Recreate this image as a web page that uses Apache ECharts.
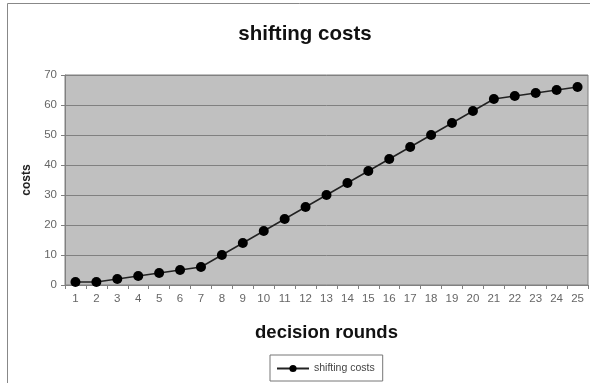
<!DOCTYPE html>
<html>
<head>
<meta charset="utf-8">
<script src="https://cdn.jsdelivr.net/npm/echarts@6/dist/echarts.min.js"></script>
<style>
  html, body { margin: 0; padding: 0; background: #fff; }
  #chart { width: 590px; height: 383px; }
</style>
</head>
<body>
<div id="chart"></div>
<script>
// Decision rounds and the shifting cost recorded at each round
const rounds = ['1','2','3','4','5','6','7','8','9','10','11','12','13','14','15','16','17','18','19','20','21','22','23','24','25'];
const shiftingCosts = [1, 1, 2, 3, 4, 5, 6, 10, 14, 18, 22, 26, 30, 34, 38, 42, 46, 50, 54, 58, 62, 63, 64, 65, 66];
const yTicks = { min: 0, max: 70, interval: 10 };

const chart = echarts.init(document.getElementById('chart'));
const font = 'Arial, "Liberation Sans", sans-serif';

chart.setOption({
  animation: false,
  backgroundColor: '#fff',
  title: {
    text: 'shifting costs',
    left: 300, top: 19, textAlign: 'center',
    textStyle: { fontFamily: font, fontSize: 20.5, fontWeight: 'bold', color: '#111' }
  },
  graphic: [{
    type: 'rect', silent: true,
    shape: { x: 7.5, y: 3.5, width: 600, height: 400 },
    style: { fill: 'none', stroke: '#888', lineWidth: 1 }
  }],
  grid: {
    left: 65, right: 2, top: 75, bottom: 98,
    show: true, backgroundColor: '#c0c0c0', borderColor: '#808080', borderWidth: 1
  },
  legend: {
    data: ['shifting costs'],
    left: 270, top: 355,
    padding: [8, 8, 7, 6],
    borderColor: '#777', borderWidth: 1,
    itemWidth: 32, itemHeight: 9, itemGap: 4,
    textStyle: { fontFamily: font, fontSize: 10.5, color: '#444' }
  },
  xAxis: {
    type: 'category', data: rounds, boundaryGap: true,
    name: 'decision rounds', nameLocation: 'middle', nameGap: 38,
    nameTextStyle: { fontFamily: font, fontSize: 18.5, fontWeight: 'bold', color: '#111' },
    axisLine: { lineStyle: { color: '#808080' } },
    axisTick: { show: true, length: 4, lineStyle: { color: '#808080' } },
    axisLabel: { fontFamily: font, fontSize: 11.5, color: '#666', margin: 8, interval: 0 },
    splitLine: { show: false }
  },
  yAxis: {
    type: 'value', min: yTicks.min, max: yTicks.max, interval: yTicks.interval,
    name: 'costs', nameLocation: 'middle', nameGap: 32, nameRotate: 90,
    nameTextStyle: { fontFamily: font, fontSize: 12, fontWeight: 'bold', color: '#222' },
    axisLine: { show: true, lineStyle: { color: '#808080' } },
    axisTick: { show: true, length: 4, lineStyle: { color: '#808080' } },
    axisLabel: { fontFamily: font, fontSize: 11.5, color: '#666', margin: 8 },
    splitLine: { show: true, lineStyle: { color: '#808080', width: 1 } }
  },
  series: [{
    name: 'shifting costs', type: 'line', data: shiftingCosts,
    symbol: 'circle', symbolSize: 10,
    itemStyle: { color: '#000' },
    lineStyle: { color: '#222', width: 1.5 }
  }]
});
</script>
</body>
</html>
